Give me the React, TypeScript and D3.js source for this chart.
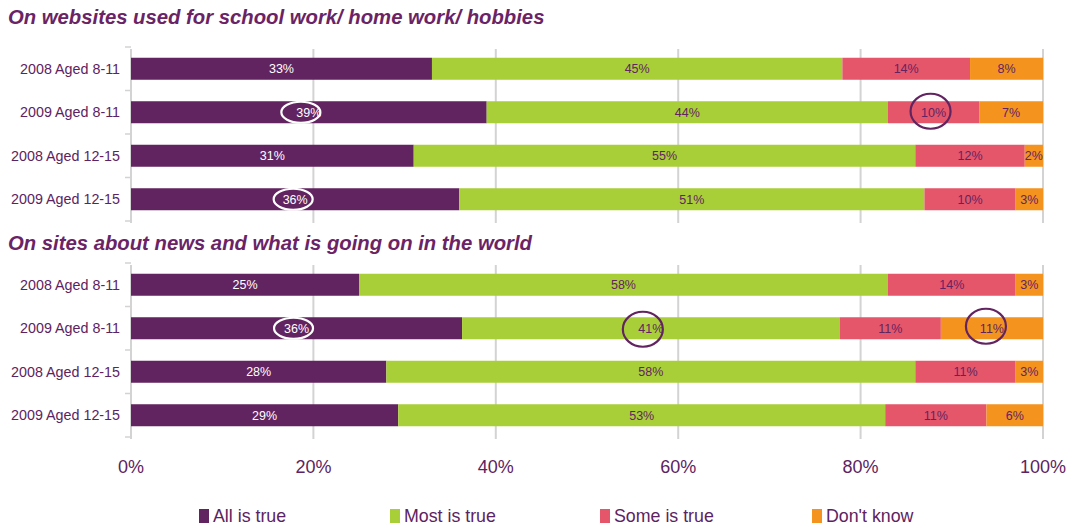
import React from "react";
import * as d3 from "d3";

const categories = ["2008 Aged 8-11", "2009 Aged 8-11", "2008 Aged 12-15", "2009 Aged 12-15"];
const seriesNames = ["All is true", "Most is true", "Some is true", "Don't know"];
const seriesColors = ["#622461", "#a9cf38", "#e5566a", "#f5931f"];
const labelColors = ["#ffffff", "#622461", "#622461", "#622461"];

const sectionTitles = [
  "On websites used for school work/ home work/ hobbies",
  "On sites about news and what is going on in the world",
];

// Section 1: school work / home work / hobbies
const allTrue1 = [33, 39, 31, 36];
const mostTrue1 = [45, 44, 55, 51];
const someTrue1 = [14, 10, 12, 10];
const dontKnow1 = [8, 7, 2, 3];

// Section 2: news
const allTrue2 = [25, 36.3, 28, 29.3];
const mostTrue2 = [58, 41.4, 58, 53.4];
const someTrue2 = [14, 11.1, 11, 11.1];
const dontKnow2 = [3, 11.2, 3, 6.2];

const xTicks = [0, 20, 40, 60, 80, 100];

// highlighted labels: section, row, series
const highlights = [
  { section: 0, row: 1, series: 0, dx: -8, dy: 0, kind: "light" },
  { section: 0, row: 3, series: 0, dx: -2, dy: 0, kind: "light" },
  { section: 1, row: 1, series: 0, dx: -3, dy: 0, kind: "light" },
  { section: 0, row: 1, series: 2, dx: -3, dy: -1, kind: "dark" },
  { section: 1, row: 1, series: 1, dx: -8, dy: 1, kind: "dark" },
  { section: 1, row: 1, series: 3, dx: -6, dy: -2, kind: "dark" },
];

const sections = [
  [allTrue1, mostTrue1, someTrue1, dontKnow1],
  [allTrue2, mostTrue2, someTrue2, dontKnow2],
];

const W = 1072;
const H = 529;
const FONT = "Arial, 'Liberation Sans', Helvetica, sans-serif";
const TEXT = "#5d2361";

const x = d3.scaleLinear().domain([0, 100]).range([131, 1043]);
const sectionRanges: [number, number][] = [
  [47, 221],
  [263, 437],
];
const yScales = sectionRanges.map((r) =>
  d3.scaleBand<string>().domain(categories).range(r).paddingInner(0.494).paddingOuter(0.247)
);

export default function App() {
  return (
    <svg
      width={W}
      height={H}
      style={{ position: "absolute", left: 0, top: 0, background: "#fff" }}
      fontFamily={FONT}
    >
      {sections.map((data, si) => {
        const y = yScales[si];
        const [r0, r1] = sectionRanges[si];
        const rows = categories.map((_, ri) => data.map((s) => s[ri]));
        const stacked = d3
          .stack<number[]>()
          .keys([0, 1, 2, 3] as any)
          .value((d, k: any) => d[k])(rows);
        const titleY = si === 0 ? 24 : 250;
        return (
          <g key={si}>
            <text x={8} y={titleY} fontSize={20.3} fontWeight="bold" fontStyle="italic" fill="#6a2466">
              {sectionTitles[si]}
            </text>
            {/* gridlines */}
            {xTicks.map((t) => (
              <line key={t} x1={x(t)} x2={x(t)} y1={r0 + 2} y2={r1 + 2} stroke="#d3d3d3" strokeWidth={2} />
            ))}
            {/* tick stubs on category axis */}
            {d3.range(5).map((k) => {
              const yy = r0 + (k * (r1 - r0)) / 4;
              return <line key={k} x1={125} x2={131} y1={yy} y2={yy} stroke="#d3d3d3" strokeWidth={1.5} />;
            })}
            {categories.map((c) => (
              <text
                key={c}
                x={120}
                y={(y(c) as number) + y.bandwidth() / 2}
                dy="0.35em"
                textAnchor="end"
                fontSize={14.3}
                fill={TEXT}
              >
                {c}
              </text>
            ))}
            {stacked.map((layer, li) => (
              <g key={li}>
                {layer.map((seg, ri) => {
                  const x0 = x(seg[0]);
                  const x1 = x(seg[1]);
                  const cy = (y(categories[ri]) as number) + y.bandwidth() / 2;
                  return (
                    <g key={ri}>
                      <rect
                        x={x0}
                        y={y(categories[ri])}
                        width={x1 - x0}
                        height={y.bandwidth()}
                        fill={seriesColors[li]}
                      />
                      <text
                        x={(x0 + x1) / 2}
                        y={cy}
                        dy="0.36em"
                        textAnchor="middle"
                        fontSize={12.5}
                        fill={labelColors[li]}
                      >
                        {Math.round(seg[1] - seg[0])}%
                      </text>
                    </g>
                  );
                })}
              </g>
            ))}
            {highlights
              .filter((h) => h.section === si)
              .map((h, hi) => {
                const seg = stacked[h.series][h.row];
                const cx = (x(seg[0]) + x(seg[1])) / 2 + h.dx;
                const cy = (y(categories[h.row]) as number) + y.bandwidth() / 2 + h.dy;
                const light = h.kind === "light";
                return (
                  <ellipse
                    key={hi}
                    cx={cx}
                    cy={cy}
                    rx={light ? 19.5 : 20}
                    ry={light ? 10.5 : 17.5}
                    fill="none"
                    stroke={light ? "#ffffff" : "#622461"}
                    strokeWidth={2.2}
                  />
                );
              })}
          </g>
        );
      })}
      {/* x axis labels */}
      {xTicks.map((t) => (
        <text key={t} x={x(t)} y={473} textAnchor="middle" fontSize={18} fill={TEXT}>
          {t}%
        </text>
      ))}
      {/* legend */}
      {seriesNames.map((n, i) => {
        const lx = [199, 390, 600, 812][i];
        return (
          <g key={n}>
            <rect x={lx} y={509} width={10} height={14} fill={seriesColors[i]} />
            <text x={lx + 14} y={522} fontSize={17.8} fill={TEXT}>
              {n}
            </text>
          </g>
        );
      })}
    </svg>
  );
}
